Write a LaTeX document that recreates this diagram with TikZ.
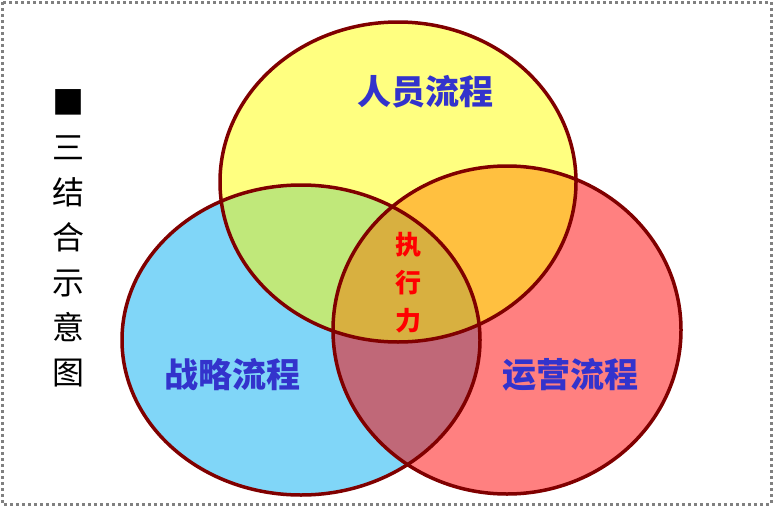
\documentclass[tikz,border=0pt]{standalone}
\usepackage{fontspec}
\newfontfamily\cjk{Noto Sans CJK SC}
\definecolor{cy}{RGB}{255,255,128}
\definecolor{cb}{RGB}{128,214,248}
\definecolor{cr}{RGB}{255,128,128}
\definecolor{cg}{RGB}{192,232,122}
\definecolor{co}{RGB}{255,192,64}
\definecolor{cmauve}{RGB}{192,104,120}
\definecolor{cc}{RGB}{216,176,64}
\definecolor{tb}{RGB}{51,51,204}
\begin{document}
\begin{tikzpicture}[x=1pt,y=-1pt,
 lab/.style={font=\cjk\bfseries\fontsize{34}{36}\selectfont,text=tb},
 ring/.style={draw=red!50!black,line width=3.5pt}]
\useasboundingbox (0,0) rectangle (773,506);
\draw[gray,line width=3pt,dash pattern=on 3pt off 3pt] (2,2) rectangle (771,504);
\def\Y{(398,182) ellipse [x radius=178,y radius=160]}
\def\B{(301,340) ellipse [x radius=179,y radius=155]}
\def\R{(507,330) ellipse [x radius=174,y radius=164]}
\fill[cy] \Y;
\fill[cb] \B;
\fill[cr] \R;
\begin{scope}\clip \Y; \fill[cg] \B; \fill[co] \R; \end{scope}
\begin{scope}\clip \B; \fill[cmauve] \R; \end{scope}
\begin{scope}\clip \Y; \clip \B; \fill[cc] \R; \end{scope}
\draw[ring] \Y; \draw[ring] \B; \draw[ring] \R;
\node[lab] (p) at (425,92) {人员流程};
\node[lab] (s) at (232,375) {战略流程};
\node[lab] (o) at (570,375) {运营流程};
\node[font=\cjk\bfseries\fontsize{26}{38}\selectfont,text=red,align=center] (e) at (408,283) {执\\行\\力};
\node[font=\cjk\fontsize{32}{45}\selectfont,align=center] (t) at (68,238) {■\\三\\结\\合\\示\\意\\图};
\end{tikzpicture}
\end{document}
